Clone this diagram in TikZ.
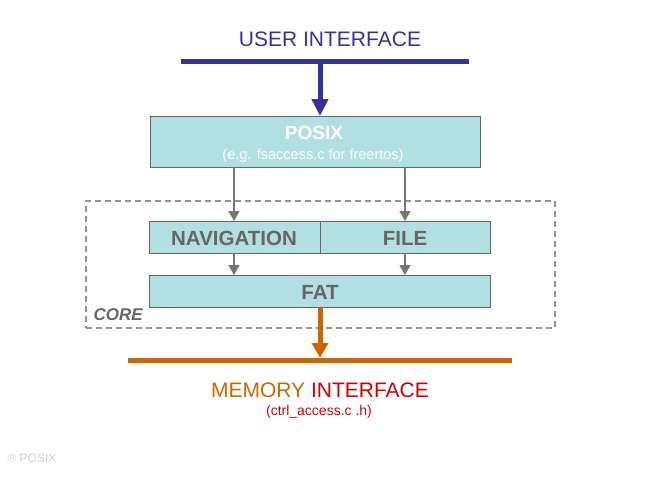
\documentclass[tikz,border=0pt]{standalone}
\usepackage{fontspec}
\setmainfont{Liberation Sans}
\usetikzlibrary{arrows.meta}
\definecolor{uiblue}{RGB}{51,51,153}
\definecolor{memorange}{RGB}{204,102,0}
\definecolor{memred}{RGB}{204,0,0}
\definecolor{boxfill}{RGB}{176,224,226}
\definecolor{txtgray}{RGB}{102,102,102}
\tikzset{
  layer/.style={draw=txtgray, line width=0.8pt, fill=boxfill, inner sep=0pt, anchor=north west},
  layertext/.style={font=\fontsize{20.5}{22}\selectfont\bfseries, text=txtgray},
  flow/.style={draw=txtgray!90, line width=1.5pt, -{Triangle[length=10pt,width=11pt]}},
}
\begin{document}
\begin{tikzpicture}[x=1pt,y=-1pt]
\useasboundingbox (0,0) rectangle (665,480);
% user interface
\node (ui) [text=uiblue, font=\fontsize{21}{24}\selectfont] at (330,39) {USER INTERFACE};
\coordinate (uiL) at (181,61);
\coordinate (uiR) at (469,61);
\coordinate (uiM) at (320,61);
\draw[uiblue, line width=5pt] (uiL) -- (uiR);
% posix box
\node (posix) [layer, minimum width=330pt, minimum height=51pt] at (150,116) {};
\node (posixt) [text=white, font=\fontsize{19}{22}\selectfont\bfseries] at (314,133) {POSIX};
\node (posixs) [text=white, font=\fontsize{14.5}{17}\selectfont] at (313,156) {(e.g. fsaccess.c for freertos)};
\draw[uiblue, line width=5pt, -{Triangle[length=17pt,width=16pt]}] (uiM) -- (posix.north -| uiM);
% core
\node (core) [draw=gray!85, line width=1.5pt, dash pattern=on 6pt off 4pt, minimum width=469pt, minimum height=127pt, inner sep=0pt, anchor=north west] at (85,200) {};
\node (corelbl) [text=txtgray, font=\fontsize{17}{20}\selectfont\bfseries\itshape, anchor=west] at (90,315) {CORE};
\node (nav) [layer, minimum width=171pt, minimum height=32pt] at (149,221) {};
\node (file) [layer, minimum width=170pt, minimum height=32pt] at (320,221) {};
\node (fat) [layer, minimum width=341pt, minimum height=32pt] at (149,275) {};
\node (navt) [layertext] at (234,238) {NAVIGATION};
\node (filet) [layertext] at (405,238) {FILE};
\node (fatt) [layertext] at (320,292) {FAT};
\coordinate (a1) at (234,167);
\coordinate (a2) at (405,167);
\coordinate (b1) at (234,253);
\coordinate (b2) at (405,253);
\draw[flow] (a1) -- (a1 |- nav.north);
\draw[flow] (a2) -- (a2 |- file.north);
\draw[flow] (b1) -- (b1 |- fat.north);
\draw[flow] (b2) -- (b2 |- fat.north);
% memory interface
\coordinate (mL) at (128,360);
\coordinate (mR) at (512,360);
\coordinate (mM) at (320,358);
\draw[memorange, line width=5pt] (mL) -- (mR);
\draw[memorange, line width=5pt, -{Triangle[length=15pt,width=16pt]}] (fat.south -| mM) -- (mM);
\node (mem) [font=\fontsize{21}{24}\selectfont] at (320,390) {\textcolor{memorange}{MEMORY} \textcolor{memred}{INTERFACE}};
\node (ctrl) [text=memred, font=\fontsize{14}{16}\selectfont] at (319,412) {(ctrl\_access.c .h)};
% footnote
\node (foot) [text=gray!40, font=\fontsize{12}{14}\selectfont, anchor=west] at (4,458) {® POSIX};
\end{tikzpicture}
\end{document}
